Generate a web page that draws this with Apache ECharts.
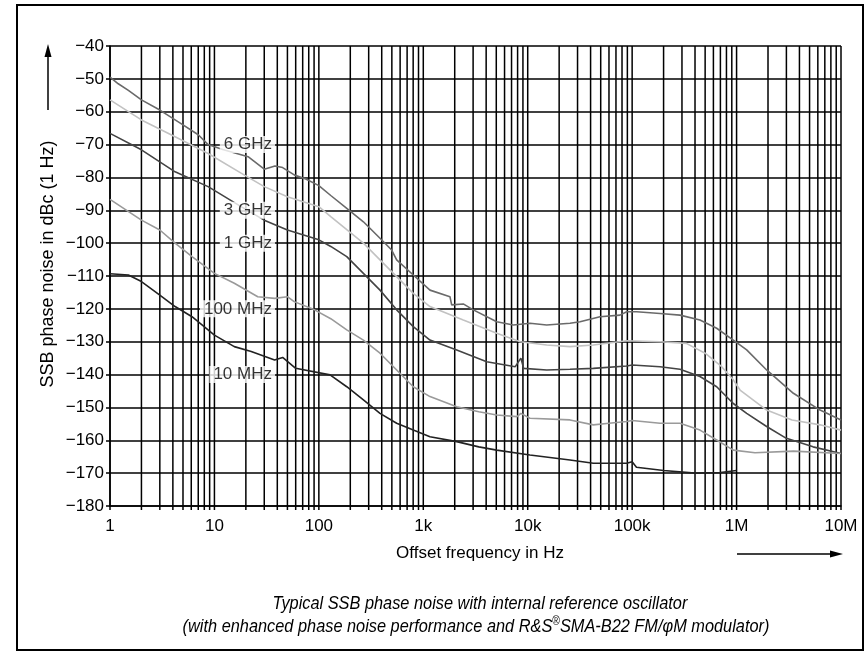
<!DOCTYPE html>
<html><head><meta charset="utf-8">
<script src="https://cdn.jsdelivr.net/npm/echarts@6/dist/echarts.min.js"></script>
<style>html,body{margin:0;padding:0;background:#fff}#c{width:867px;height:656px}</style>
</head><body><div id="c"></div>
<script>
// ---- tick labels ----
const xTickLabels = ['1', '10', '100', '1k', '10k', '100k', '1M', '10M'];
const decades = [1, 10, 100, 1000, 10000, 100000, 1000000, 10000000];
const minorMultiples = [2, 3, 4, 5, 6, 7, 8, 9];

// ---- series (offset frequency in Hz, phase noise in dBc) ----
const seriesNames = ['6 GHz', '3 GHz', '1 GHz', '100 MHz', '10 MHz'];

const f6G = [1, 1.2, 1.5, 2, 3, 5, 7, 8.7, 12, 21, 30, 38, 45, 58.6, 75, 100, 130, 185, 267, 385, 498, 556, 802, 1159, 1800, 1870, 2415, 3013, 5050, 7280, 10520, 15200, 25400, 31700, 49200, 76500, 88700, 110400, 185000, 287000, 446000, 645000, 930000, 1250000, 1940000, 3500000, 6300000, 10000000];
const v6G = [-49.5, -51.5, -53.5, -56.4, -59.5, -64, -67, -70, -71.5, -73.7, -77.5, -76.5, -77, -79.3, -80.5, -82.5, -85.5, -89.4, -93.5, -98.5, -102.1, -105.1, -109.7, -114.3, -116.3, -118.8, -118.5, -120.3, -123.9, -124.9, -124.4, -124.9, -124.4, -123.9, -122.4, -121.9, -120.9, -120.9, -121.4, -121.9, -123.4, -125.9, -129.5, -132.5, -138.6, -145.7, -150.8, -153.8];

const f3G = [1, 2, 4.2, 8.7, 18, 30, 50, 100, 130, 185, 267, 385, 556, 802, 1159, 2415, 5050, 8500, 15200, 25400, 42500, 88700, 185000, 330000, 500000, 720000, 930000, 1080000, 1940000, 3400000, 6300000, 10000000];
const v3G = [-56.4, -62.5, -67.6, -72.7, -78.7, -82.8, -85.9, -88.9, -91.9, -95.9, -100, -105.1, -110.2, -115.3, -119.3, -123.4, -127.4, -130, -131, -131.5, -131, -129.7, -130, -130.5, -133.5, -137.6, -141.6, -144.7, -150.8, -153.8, -155.3, -156.9];

const f1G = [1, 2, 4.2, 8.7, 18, 30, 50, 100, 130, 185, 267, 385, 556, 802, 1159, 2090, 4050, 7600, 8600, 9140, 15200, 25400, 42500, 88700, 100000, 185000, 287000, 446000, 645000, 930000, 1250000, 1940000, 3000000, 5400000, 10000000];
const v1G = [-66.6, -71.6, -78.3, -82.8, -88.9, -93, -96, -99, -101, -104.1, -109.2, -114.3, -120.3, -125.4, -129.5, -132.5, -136.1, -137.6, -135, -138.1, -138.6, -138.4, -138.1, -137.4, -137.1, -137.6, -138.4, -140.6, -143.7, -148.8, -151.8, -155.8, -159.4, -162, -164];

const f100M = [1, 2, 3, 4.2, 6.1, 10, 15.5, 26, 37.7, 50, 58, 91, 130, 185, 267, 385, 556, 802, 1159, 2090, 3400, 5050, 7900, 8600, 10500, 25400, 42500, 60000, 88700, 100000, 185000, 287000, 446000, 645000, 930000, 1500000, 3500000, 10000000];
const v100M = [-86.7, -93, -96, -100, -104.1, -109.2, -112.2, -116.3, -116.8, -116.3, -117.8, -120.3, -123, -126.4, -129.5, -133.5, -138.6, -143.7, -146.7, -149.8, -151.3, -152.3, -152.8, -151.8, -153.3, -153.8, -155.3, -154.8, -154.3, -154, -154.8, -154.8, -156.9, -159.9, -163, -163.8, -163.3, -164];

const f10M = [1, 1.5, 2, 3, 4.2, 6.1, 10, 15.5, 22.5, 37.7, 45, 60, 128, 185, 267, 385, 556, 802, 1159, 2090, 3400, 5050, 10500, 25400, 42500, 88700, 100000, 110000, 200000, 400000, 700000, 1000000];
const v10M = [-109.3, -109.7, -111.7, -115.8, -119.3, -122.4, -128, -131.5, -133, -135.6, -134.8, -138.1, -140.1, -143.7, -147.7, -151.8, -154.8, -156.9, -158.9, -160.4, -162, -163, -164.5, -166, -167, -167, -166.5, -168.2, -169.2, -170, -169.8, -169.2];

// ---- curve labels (anchor frequency, level) ----
const labelFreq = [38, 38, 38, 38, 38];
const labelLevel = [-70, -90, -100, -120, -140];

const seriesF = [f6G, f3G, f1G, f100M, f10M];
const seriesV = [v6G, v3G, v1G, v100M, v10M];
const colors = ['#6a6a6a', '#c2c2c2', '#444444', '#9a9a9a', '#222222'];

const gridXs = [];
decades.forEach((d, i) => {
  gridXs.push(d);
  if (i < decades.length - 1) minorMultiples.forEach(m => gridXs.push(d * m));
});

const chart = echarts.init(document.getElementById('c'), null, {renderer: 'canvas'});
const FONT = 'Liberation Sans, Arial, sans-serif';

const lineSeries = seriesNames.map((n, i) => ({
  name: n, type: 'line', showSymbol: false, symbol: 'none', z: 5,
  lineStyle: {color: colors[i], width: 1.6},
  data: seriesF[i].map((f, k) => [f, seriesV[i][k]])
}));

chart.setOption({
  animation: false,
  backgroundColor: '#fff',
  grid: {left: 110, right: 26, top: 46, bottom: 150},
  xAxis: {
    type: 'log', logBase: 10, min: 1, max: 10000000, interval: 1,
    axisLine: {show: true, lineStyle: {color: '#000', width: 1.5}},
    axisTick: {show: false},
    splitLine: {show: false},
    axisLabel: {
      margin: 12, color: '#000', fontSize: 17, fontFamily: FONT,
      formatter: v => xTickLabels[Math.round(Math.log10(v))]
    }
  },
  yAxis: {
    type: 'value', min: -180, max: -40, interval: 10,
    axisLine: {show: true, lineStyle: {color: '#000', width: 1.5}},
    axisTick: {show: true, length: 4, lineStyle: {color: '#000', width: 1.5}},
    splitLine: {show: true, lineStyle: {color: '#000', width: 1.5}},
    axisLabel: {
      margin: 6, color: '#000', fontSize: 17, fontFamily: FONT,
      formatter: v => String(v).replace('-', '\u2212')
    }
  },
  series: [
    {
      type: 'custom', z: 2, silent: true, clip: false,
      data: gridXs.map(x => [x, -180]),
      encode: {x: 0, y: 1},
      renderItem: (params, api) => {
        const x = api.value(0);
        const top = api.coord([x, -40]);
        const bot = api.coord([x, -180]);
        return {type: 'line', shape: {x1: top[0], y1: top[1], x2: bot[0], y2: bot[1] + 4},
          style: {stroke: '#000', lineWidth: 1.5}};
      }
    },
    ...lineSeries,
    {
      type: 'scatter', z: 10, symbolSize: 0, silent: true,
      data: seriesNames.map((n, i) => [labelFreq[i], labelLevel[i], n]),
      label: {
        show: true, position: 'left', distance: 0,
        formatter: p => p.value[2],
        color: '#000', fontSize: 17, fontFamily: FONT,
        backgroundColor: '#fff', padding: [0, 3, 0, 4]
      }
    }
  ],
  graphic: [
    {type: 'rect', shape: {x: 17, y: 5, width: 846, height: 645},
      style: {fill: 'none', stroke: '#000', lineWidth: 2}, z: 100},
    {type: 'text', x: 48, y: 264, rotation: Math.PI / 2,
      style: {text: 'SSB phase noise in dBc (1 Hz)', fill: '#000', font: '18px ' + FONT,
        textAlign: 'center', textVerticalAlign: 'middle'}},
    {type: 'line', shape: {x1: 48, y1: 110, x2: 48, y2: 55}, style: {stroke: '#000', lineWidth: 1.5}},
    {type: 'polygon', shape: {points: [[44.5, 57], [51.5, 57], [48, 44]]}, style: {fill: '#000'}},
    {type: 'text', x: 480, y: 553,
      style: {text: 'Offset frequency in Hz', fill: '#000', font: '17px ' + FONT,
        textAlign: 'center', textVerticalAlign: 'middle'}},
    {type: 'line', shape: {x1: 737, y1: 554, x2: 832, y2: 554}, style: {stroke: '#000', lineWidth: 1.5}},
    {type: 'polygon', shape: {points: [[830, 550.5], [830, 557.5], [843, 554]]}, style: {fill: '#000'}},
    {type: 'text', x: 480, y: 604, scaleX: 0.86,
      style: {text: 'Typical SSB phase noise with internal reference oscillator', fill: '#000',
        font: 'italic 19px ' + FONT, textAlign: 'center', textVerticalAlign: 'middle'}},
    {type: 'text', x: 476, y: 627, scaleX: 0.86,
      style: {
        text: '{a|(with enhanced phase noise performance and R&S}{s|\u00AE}{a|SMA-B22 FM/\u03C6M modulator)}',
        textAlign: 'center', textVerticalAlign: 'middle',
        rich: {
          a: {fill: '#000', fontFamily: FONT, fontStyle: 'italic', fontSize: 19, lineHeight: 22},
          s: {fill: '#000', fontFamily: FONT, fontSize: 12, lineHeight: 22, verticalAlign: 'top', padding: [0, 0, 6, 0]}
        }
      }}
  ]
});
</script>
</body></html>
